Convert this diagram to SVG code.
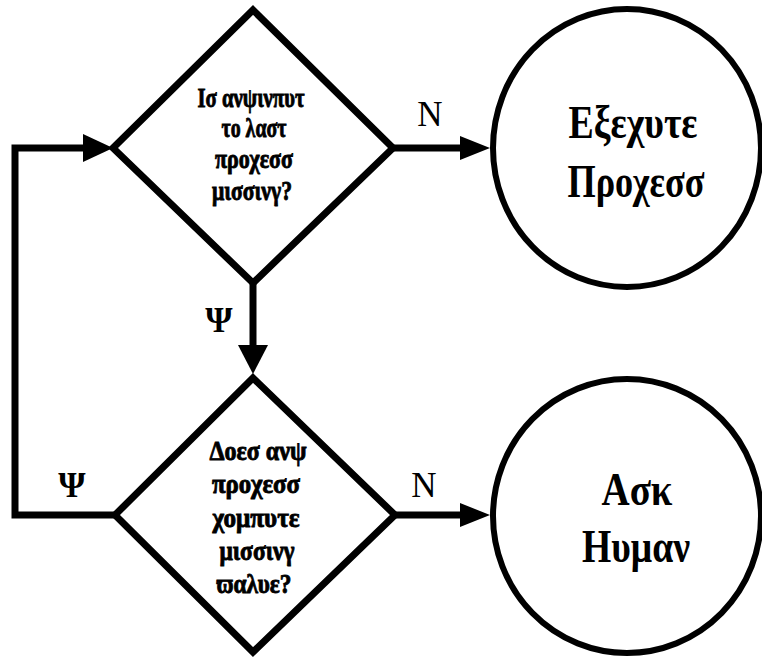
<svg xmlns="http://www.w3.org/2000/svg" width="762" height="657" viewBox="0 0 762 657">
<style>
.shape{fill:#fff;stroke:#000;stroke-width:7;stroke-linejoin:miter;stroke-miterlimit:10}
.circ{fill:#fff;stroke:#000;stroke-width:6}
.conn{fill:none;stroke:#000;stroke-width:7;stroke-linejoin:miter}
.head{fill:#000;stroke:none}
.dt{font-family:"Liberation Serif","DejaVu Serif",serif;font-weight:bold;font-size:28px;fill:#000;stroke:#000;stroke-width:0.9;text-anchor:middle}
.ct{font-family:"Liberation Serif","DejaVu Serif",serif;font-weight:bold;font-size:47px;fill:#000;text-anchor:middle}
.lbl{font-family:"Liberation Serif","DejaVu Serif",serif;font-size:35px;fill:#000;text-anchor:middle}
</style>
<rect width="762" height="657" fill="#fff"/>
<g id="connectors">
<polyline class="conn" points="115,515 15,515 15,148 85,148"/>
<polygon class="head" points="83,134 113,148 83,162"/>
<line class="conn" x1="393" y1="148" x2="462" y2="148"/>
<polygon class="head" points="460,136 490,148 460,160"/>
<line class="conn" x1="395" y1="515" x2="462" y2="515"/>
<polygon class="head" points="460,503 490,515 460,527"/>
<line class="conn" x1="253" y1="283" x2="253" y2="347"/>
<polygon class="head" points="238,345 268,345 253,374"/>
<text class="lbl" x="430" y="126">Ν</text>
<text class="lbl" x="424" y="497">Ν</text>
<text class="lbl" x="219" y="332" font-weight="bold">Ψ</text>
<text class="lbl" x="72" y="497" font-weight="bold">Ψ</text>
</g>
<g id="decision1">
<polygon class="shape" points="253,10 393,148 253,283 113,148"/>
<text class="dt" x="251" y="107" textLength="107" lengthAdjust="spacingAndGlyphs">Ισ ανψινπυτ</text>
<text class="dt" x="254" y="137" textLength="65" lengthAdjust="spacingAndGlyphs">το λαστ</text>
<text class="dt" x="254" y="168" textLength="78" lengthAdjust="spacingAndGlyphs">προχεσσ</text>
<text class="dt" x="252" y="200" textLength="80" lengthAdjust="spacingAndGlyphs">μισσινγ?</text>
</g>
<g id="decision2">
<polygon class="shape" points="253,378 395,515 253,652 115,515"/>
<text class="dt" x="258" y="460" font-size="26" textLength="97" lengthAdjust="spacingAndGlyphs">Δοεσ ανψ</text>
<text class="dt" x="256" y="493" font-size="26" textLength="88" lengthAdjust="spacingAndGlyphs">προχεσσ</text>
<text class="dt" x="256" y="527" font-size="26" textLength="87" lengthAdjust="spacingAndGlyphs">χομπυτε</text>
<text class="dt" x="257" y="560" font-size="26" textLength="75" lengthAdjust="spacingAndGlyphs">μισσινγ</text>
<text class="dt" x="254" y="593" font-size="26" textLength="75" lengthAdjust="spacingAndGlyphs">ϖαλυε?</text>
</g>
<g id="execute">
<ellipse class="circ" cx="627" cy="148" rx="134" ry="139"/>
<text class="ct" x="633" y="138" textLength="129" lengthAdjust="spacingAndGlyphs">Εξεχυτε</text>
<text class="ct" x="636" y="197" textLength="137" lengthAdjust="spacingAndGlyphs">Προχεσσ</text>
</g>
<g id="askhuman">
<ellipse class="circ" cx="627" cy="516" rx="134" ry="137"/>
<text class="ct" x="637" y="505" textLength="71" lengthAdjust="spacingAndGlyphs">Ασκ</text>
<text class="ct" x="636" y="562" textLength="108" lengthAdjust="spacingAndGlyphs">Ηυμαν</text>
</g>
</svg>
